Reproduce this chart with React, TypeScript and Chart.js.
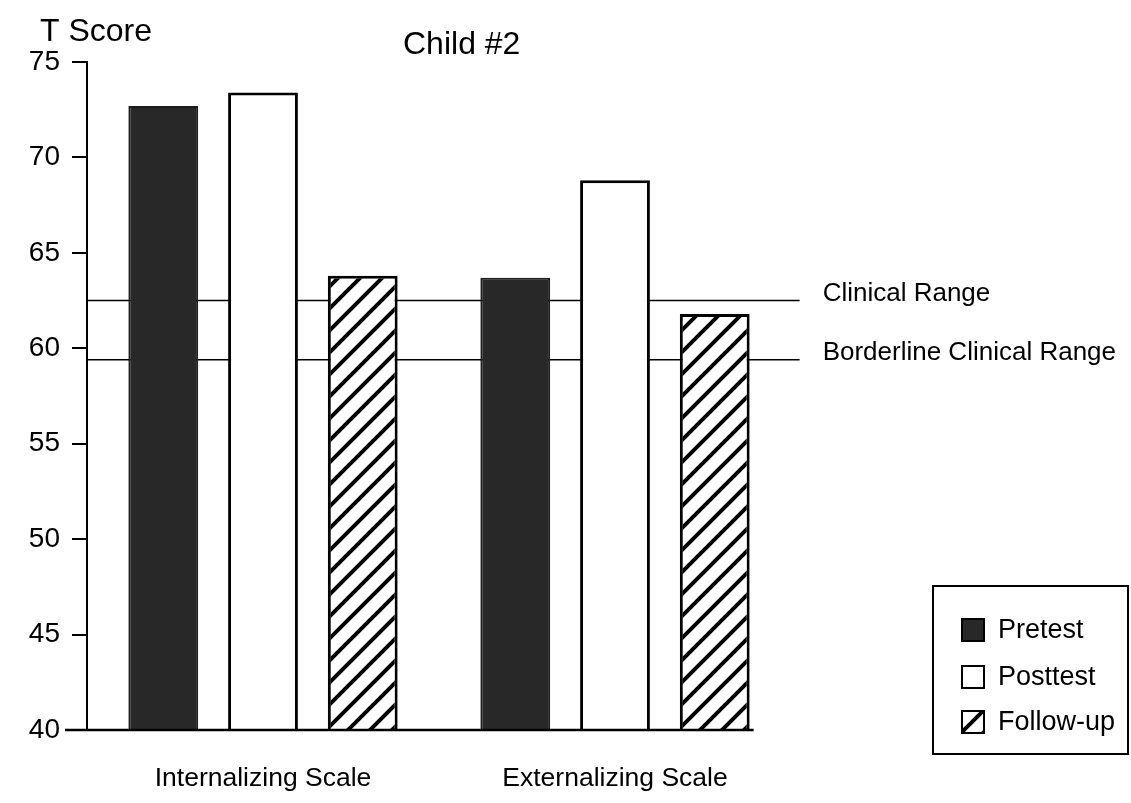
import React, { useEffect, useRef } from 'react';
import { Chart, registerables } from 'chart.js';

Chart.register(...registerables);

// ---- data ----
const categories = ['Internalizing Scale', 'Externalizing Scale'];
const seriesNames = ['Pretest', 'Posttest', 'Follow-up'];
const pretest = [72.7, 63.7];
const posttest = [73.4, 68.8];
const followUp = [63.8, 61.8];
const cutoffValues = [62.5, 59.4];
const cutoffLabels = ['Clinical Range', 'Borderline Clinical Range'];
const yTicks = [40, 45, 50, 55, 60, 65, 70, 75];
const chartTitle = 'Child #2';
const yAxisTitle = 'T Score';

const FONT = '"Liberation Sans", Arial, Helvetica, sans-serif';

function makeHatch(): CanvasPattern | string {
  const s = 22;
  const c = document.createElement('canvas');
  c.width = s;
  c.height = s;
  const g = c.getContext('2d');
  if (!g) return '#ffffff';
  g.fillStyle = '#ffffff';
  g.fillRect(0, 0, s, s);
  g.strokeStyle = '#000000';
  g.lineWidth = 4;
  g.beginPath();
  g.moveTo(-2, s + 2);
  g.lineTo(s + 2, -2);
  g.moveTo(-3, 3);
  g.lineTo(3, -3);
  g.moveTo(s - 3, s + 3);
  g.lineTo(s + 3, s - 3);
  g.stroke();
  return g.createPattern(c, 'repeat') || '#ffffff';
}

const decor = {
  id: 'decor',
  beforeDatasetsDraw(chart: any) {
    const { ctx, chartArea, scales } = chart;
    const meta = chart.getDatasetMeta(chart.data.datasets.length - 1);
    const last: any = meta.data[meta.data.length - 1];
    const lastRight = last.x + last.width / 2;
    ctx.save();
    ctx.strokeStyle = '#000';
    ctx.lineWidth = 1.4;
    cutoffValues.forEach((v) => {
      const y = scales.y.getPixelForValue(v);
      ctx.beginPath();
      ctx.moveTo(chartArea.left, y);
      ctx.lineTo(lastRight + 50, y);
      ctx.stroke();
    });
    ctx.restore();
  },
  afterDraw(chart: any) {
    const { ctx, chartArea, scales } = chart;
    const meta = chart.getDatasetMeta(chart.data.datasets.length - 1);
    const last: any = meta.data[meta.data.length - 1];
    const lastRight = last.x + last.width / 2;
    ctx.save();
    // baseline
    ctx.strokeStyle = '#000';
    ctx.lineWidth = 2.5;
    ctx.beginPath();
    ctx.moveTo(chartArea.left - 22, chartArea.bottom);
    ctx.lineTo(lastRight + 4, chartArea.bottom);
    ctx.stroke();

    // cutoff labels
    ctx.fillStyle = '#000';
    ctx.font = `26px ${FONT}`;
    ctx.textAlign = 'left';
    ctx.textBaseline = 'middle';
    cutoffValues.forEach((v, i) => {
      const y = scales.y.getPixelForValue(v);
      ctx.fillText(cutoffLabels[i], lastRight + 73, y - 7);
    });

    // titles
    ctx.textBaseline = 'alphabetic';
    ctx.font = `32px ${FONT}`;
    ctx.fillText(yAxisTitle, 40, 41);
    ctx.fillText(chartTitle, 403, 54);

    // legend
    const bx = 933, by = 586, bw = 195, bh = 168;
    ctx.lineWidth = 2;
    ctx.strokeStyle = '#000';
    ctx.strokeRect(bx, by, bw, bh);
    const rowYs = [630, 677, 722];
    ctx.font = `27px ${FONT}`;
    ctx.textBaseline = 'middle';
    chart.data.datasets.forEach((ds: any, i: number) => {
      const cy = rowYs[i];
      ctx.fillStyle = ds.backgroundColor;
      ctx.fillRect(962, cy - 11, 22, 22);
      ctx.lineWidth = 2;
      ctx.strokeStyle = '#000';
      ctx.strokeRect(962, cy - 11, 22, 22);
      ctx.fillStyle = '#000';
      ctx.fillText(ds.label, 998, cy + 1);
    });
    ctx.restore();
  },
};

export default function App() {
  const ref = useRef<HTMLCanvasElement | null>(null);
  useEffect(() => {
    if (!ref.current) return;
    const hatch = makeHatch();
    const chart = new Chart(ref.current, {
      type: 'bar',
      data: {
        labels: categories,
        datasets: [
          {
            label: seriesNames[0],
            data: pretest,
            backgroundColor: '#282828',
            borderColor: '#1c1c1c',
            borderWidth: 2,
            categoryPercentage: 0.85,
            barPercentage: 0.7,
          },
          {
            label: seriesNames[1],
            data: posttest,
            backgroundColor: '#ffffff',
            borderColor: '#000000',
            borderWidth: 3,
            categoryPercentage: 0.85,
            barPercentage: 0.7,
          },
          {
            label: seriesNames[2],
            data: followUp,
            backgroundColor: hatch as any,
            borderColor: '#000000',
            borderWidth: 3,
            categoryPercentage: 0.85,
            barPercentage: 0.7,
          },
        ],
      },
      options: {
        animation: false,
        responsive: false,
        layout: { padding: { left: 0, top: 62, right: 1131 - 791, bottom: 0 } },
        plugins: {
          legend: { display: false },
          tooltip: { enabled: false },
          title: { display: false },
        },
        scales: {
          x: {
            grid: { display: false, drawTicks: false },
            border: { display: false },
            ticks: { color: '#000', font: { family: FONT, size: 26.5 }, padding: 33 },
            afterFit: (s: any) => {
              s.height = 73;
            },
          },
          y: {
            min: 40,
            max: 75,
            afterBuildTicks: (s: any) => {
              s.ticks = yTicks.map((v) => ({ value: v }));
            },
            grid: {
              drawOnChartArea: false,
              drawTicks: true,
              tickLength: 15,
              color: '#000',
              lineWidth: 2,
            },
            border: { display: true, color: '#000', width: 2 },
            ticks: { color: '#000', font: { family: FONT, size: 28 }, padding: 12 },
            afterFit: (s: any) => {
              s.width = 87;
            },
          },
        },
      },
      plugins: [decor],
    } as any);
    return () => chart.destroy();
  }, []);
  return (
    <div style={{ position: 'absolute', left: 0, top: 0, width: 1131, height: 803, background: '#fff' }}>
      <canvas ref={ref} width={1131} height={803} />
    </div>
  );
}
